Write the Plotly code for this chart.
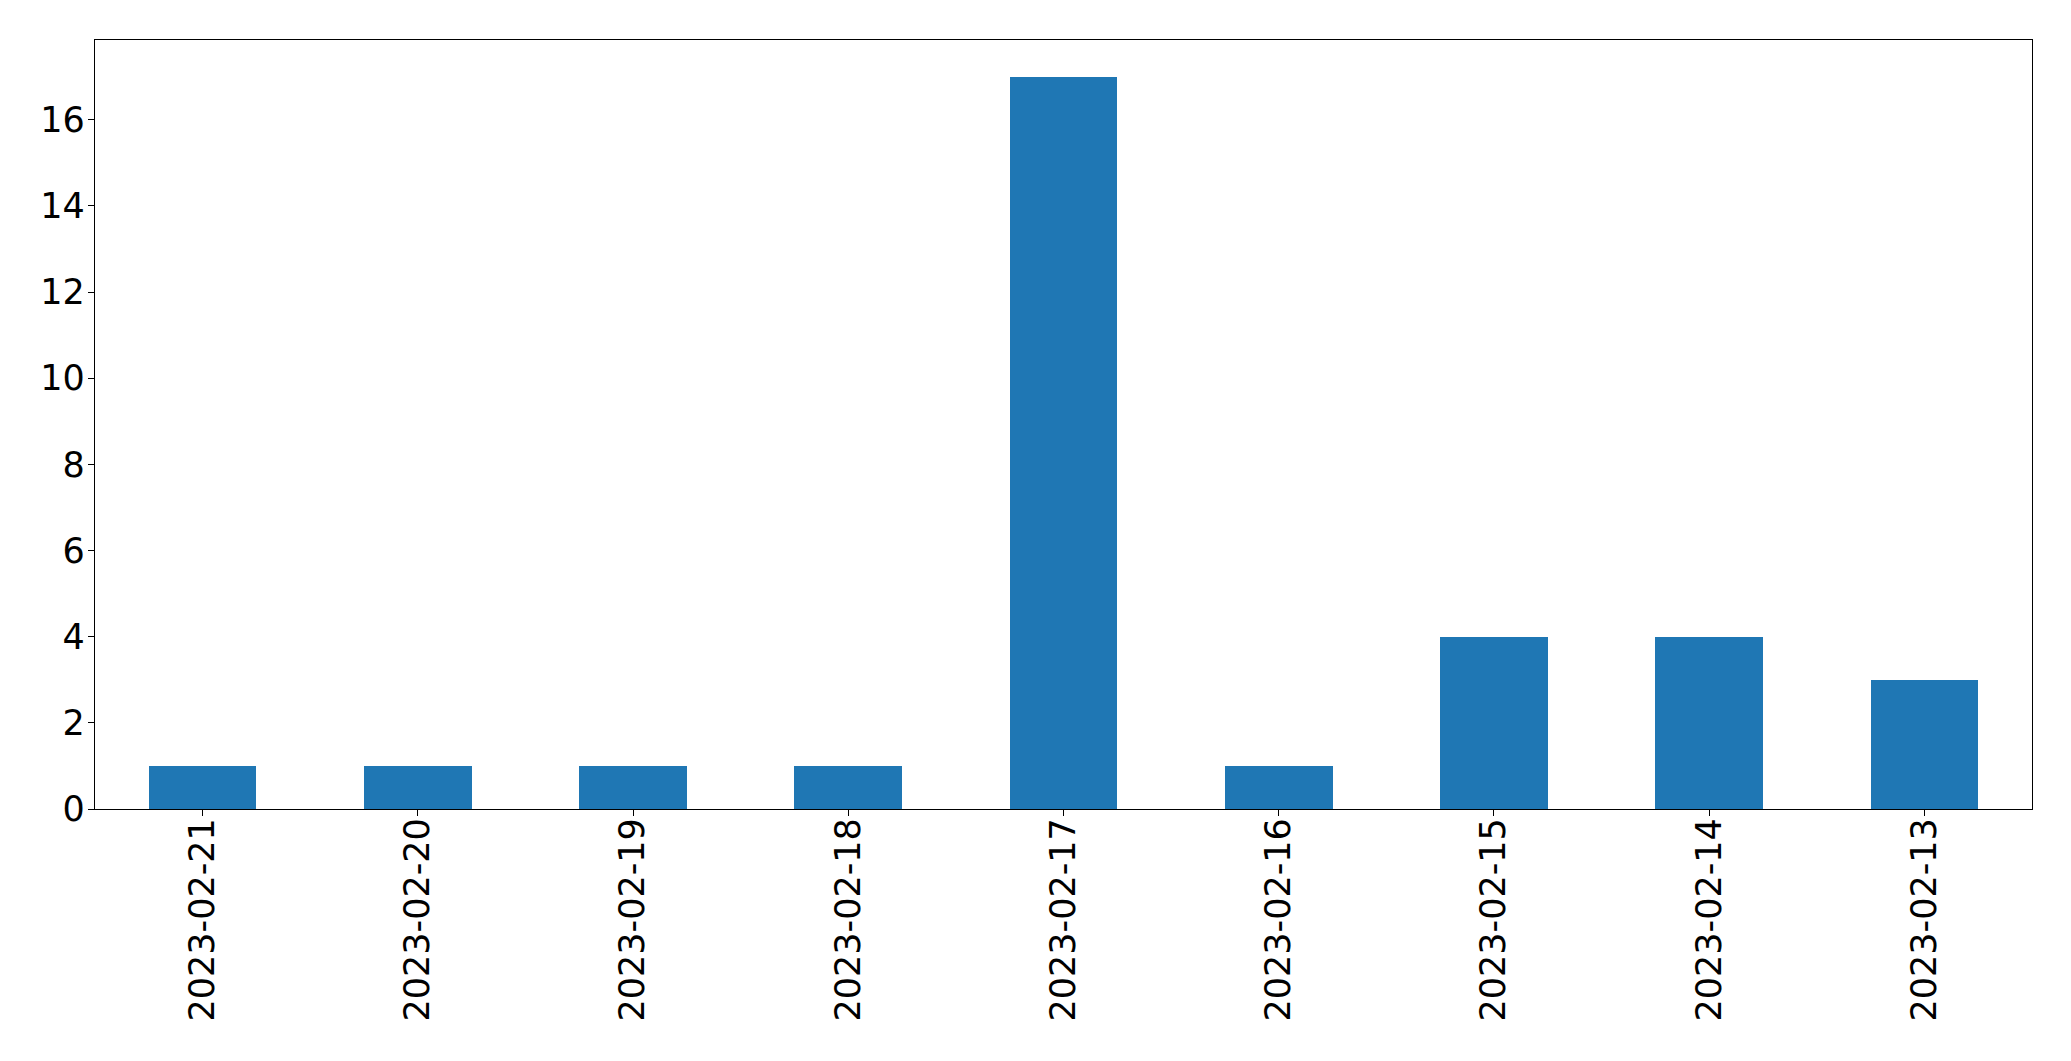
import plotly.graph_objects as go

dates = ["2023-02-21", "2023-02-20", "2023-02-19", "2023-02-18", "2023-02-17",
         "2023-02-16", "2023-02-15", "2023-02-14", "2023-02-13"]
counts = [1, 1, 1, 1, 17, 1, 4, 4, 3]
y_ticks = [0, 2, 4, 6, 8, 10, 12, 14, 16]

fig = go.Figure(go.Bar(x=dates, y=counts, width=0.5, marker=dict(color="#1f77b4", line=dict(width=0))))

font = dict(family="DejaVu Sans", size=35, color="black")
fig.update_layout(
    width=2063, height=1053,
    margin=dict(l=86.5, r=39, t=31.5, b=252, pad=0),
    paper_bgcolor="white", plot_bgcolor="white",
    font=font, showlegend=False, bargap=0,
)
fig.update_xaxes(type="category", range=[-0.5, 8.5], showline=True, linecolor="black", linewidth=1.3,
                 mirror=True, ticks="outside", ticklen=6, tickwidth=1.3, tickcolor="black",
                 tickangle=-90, showgrid=False, tickfont=font, zeroline=False, ticklabelstandoff=-12)
fig.update_yaxes(range=[0, 17.85], tickvals=y_ticks, showline=True, linecolor="black", linewidth=1.3,
                 mirror=True, ticks="outside", ticklen=6, tickwidth=1.3, tickcolor="black",
                 showgrid=False, tickfont=font, zeroline=False, ticklabelstandoff=-4)
fig.write_html("out.html")
